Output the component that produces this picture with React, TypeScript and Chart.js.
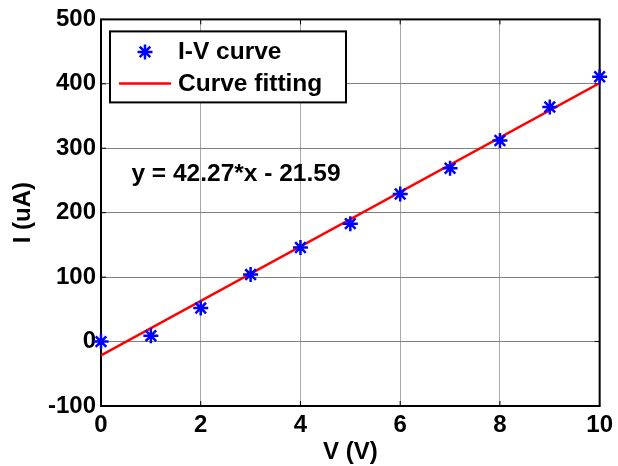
import React, { useEffect, useRef } from "react";
import { Chart, registerables } from "chart.js";

Chart.register(...registerables);

const voltage = [0, 1, 2, 3, 4, 5, 6, 7, 8, 9, 10];
const current = [0, 9, 52, 104, 146, 183, 229, 269, 312, 364, 411];
const fitX = [0, 10];
const fitY = [-21.59, 401.11];
const seriesLabels = ["I-V curve", "Curve fitting"];
const equationText = "y = 42.27*x - 21.59";
const xTitle = "V (V)";
const yTitle = "I (uA)";

const FONT = "'Liberation Sans', Arial, Helvetica, sans-serif";
const BLUE = "#0000ff";
const RED = "#ff0000";

function drawStar(ctx: CanvasRenderingContext2D, x: number, y: number, r: number) {
  ctx.beginPath();
  ctx.moveTo(x - r, y);
  ctx.lineTo(x + r, y);
  ctx.moveTo(x, y - r);
  ctx.lineTo(x, y + r);
  const d = r * Math.SQRT1_2;
  ctx.moveTo(x - d, y - d);
  ctx.lineTo(x + d, y + d);
  ctx.moveTo(x - d, y + d);
  ctx.lineTo(x + d, y - d);
  ctx.stroke();
}

const framePlugin = {
  id: "matlabFrame",
  beforeDatasetsDraw(chart: any) {
    const { ctx, chartArea } = chart;
    const { left, right, top, bottom } = chartArea;
    const xs = chart.scales.x;
    const ys = chart.scales.y;
    ctx.save();
    ctx.strokeStyle = "#000";
    ctx.lineWidth = 1;
    const tl = 5;
    ctx.beginPath();
    xs.ticks.forEach((t: any) => {
      const px = xs.getPixelForValue(t.value);
      ctx.moveTo(px, bottom);
      ctx.lineTo(px, bottom - tl);
      ctx.moveTo(px, top);
      ctx.lineTo(px, top + tl);
    });
    ys.ticks.forEach((t: any) => {
      const py = ys.getPixelForValue(t.value);
      ctx.moveTo(left, py);
      ctx.lineTo(left + tl, py);
      ctx.moveTo(right, py);
      ctx.lineTo(right - tl, py);
    });
    ctx.stroke();
    ctx.lineWidth = 2;
    ctx.strokeRect(left, top, right - left, bottom - top);
    ctx.restore();
  },
  afterDatasetsDraw(chart: any) {
    const { ctx, chartArea } = chart;
    const xs = chart.scales.x;
    const ys = chart.scales.y;
    ctx.save();
    // equation annotation
    ctx.font = `bold 24.5px ${FONT}`;
    ctx.fillStyle = "#000";
    ctx.textAlign = "left";
    ctx.textBaseline = "middle";
    ctx.fillText(equationText, xs.getPixelForValue(0.61), ys.getPixelForValue(260));

    // legend box
    const bx = chartArea.left + 9;
    const by = chartArea.top + 12;
    const bw = 236;
    const bh = 71;
    ctx.fillStyle = "#fff";
    ctx.fillRect(bx, by, bw, bh);
    ctx.strokeStyle = "#000";
    ctx.lineWidth = 2;
    ctx.strokeRect(bx, by, bw, bh);

    const labels = chart.data.datasets.map((d: any) => d.label);
    ctx.strokeStyle = BLUE;
    ctx.lineWidth = 2.5;
    drawStar(ctx, bx + 35, by + 20.5, 7.5);
    ctx.strokeStyle = RED;
    ctx.lineWidth = 2.5;
    ctx.beginPath();
    ctx.moveTo(bx + 9, by + 52);
    ctx.lineTo(bx + 61, by + 52);
    ctx.stroke();
    ctx.fillStyle = "#000";
    ctx.font = `bold 24.5px ${FONT}`;
    ctx.textBaseline = "middle";
    ctx.fillText(labels[0], bx + 68, by + 20.5);
    ctx.fillText(labels[1], bx + 68, by + 53);
    ctx.restore();
  },
};

export default function App() {
  const ref = useRef<HTMLCanvasElement | null>(null);
  useEffect(() => {
    document.body.style.margin = "0";
    const canvas = ref.current;
    if (!canvas) return;
    const chart = new Chart(canvas, {
      type: "scatter",
      data: {
        datasets: [
          {
            label: seriesLabels[0],
            data: voltage.map((v, i) => ({ x: v, y: current[i] })),
            pointStyle: "star",
            pointRadius: 7.5,
            pointBorderWidth: 2.5,
            borderColor: BLUE,
            backgroundColor: BLUE,
            showLine: false,
            clip: false as any,
            order: 1,
          },
          {
            label: seriesLabels[1],
            data: fitX.map((v, i) => ({ x: v, y: fitY[i] })),
            showLine: true,
            borderColor: RED,
            borderWidth: 2.5,
            pointRadius: 0,
            backgroundColor: RED,
            order: 2,
          },
        ],
      },
      options: {
        animation: false,
        responsive: false,
        devicePixelRatio: 1,
        layout: { padding: { top: 19, right: 16, left: 0, bottom: 0 } },
        plugins: { legend: { display: false }, tooltip: { enabled: false } },
        scales: {
          x: {
            type: "linear",
            min: 0,
            max: 10,
            ticks: {
              stepSize: 2,
              color: "#000",
              padding: 5,
              font: { family: FONT, size: 24, weight: "bold" },
            },
            grid: { color: "#a8a8a8", drawTicks: false, lineWidth: 1 },
            border: { display: false },
            title: {
              display: true,
              text: xTitle,
              color: "#000",
              padding: { top: 0, bottom: 0 },
              font: { family: FONT, size: 24, weight: "bold", lineHeight: 1.1 },
            },
            afterFit: (s: any) => {
              s.height = 60;
            },
          },
          y: {
            type: "linear",
            min: -100,
            max: 500,
            ticks: {
              stepSize: 100,
              color: "#000",
              padding: 5,
              font: { family: FONT, size: 24, weight: "bold" },
            },
            grid: { color: "#808080", drawTicks: false, lineWidth: 1 },
            border: { display: false },
            title: {
              display: true,
              text: yTitle,
              color: "#000",
              padding: { top: 10, bottom: 0 },
              font: { family: FONT, size: 24, weight: "bold", lineHeight: 1.1 },
            },
            afterFit: (s: any) => {
              s.width = 101;
            },
          },
        },
      },
      plugins: [framePlugin],
    });
    return () => chart.destroy();
  }, []);
  return (
    <div style={{ width: 618, height: 466, background: "#fff" }}>
      <canvas ref={ref} width={618} height={466} style={{ display: "block" }} />
    </div>
  );
}
